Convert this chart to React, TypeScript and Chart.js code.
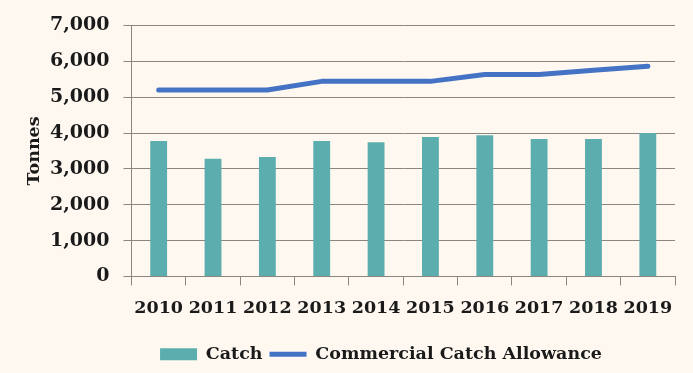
import React, { useEffect, useRef } from "react";
import { Chart, registerables } from "chart.js";

Chart.register(...registerables);

const years = ["2010", "2011", "2012", "2013", "2014", "2015", "2016", "2017", "2018", "2019"];
const catchValues = [3780, 3280, 3330, 3780, 3740, 3890, 3940, 3830, 3830, 4000];
const allowanceValues = [5200, 5200, 5200, 5440, 5440, 5440, 5630, 5630, 5750, 5860];
const yTicks = [0, 1000, 2000, 3000, 4000, 5000, 6000, 7000];

const BG = "#fef8f1";
const GRID = "#8a8680";
const TEXT = "#1a1a1a";
const FONT = "'DejaVu Serif', serif";
const FS = 17.5;

const legendShift = {
  id: "legendShift",
  afterLayout(chart: any) {
    const lg = chart.legend;
    if (lg) {
      lg.left += 38;
      lg.right += 38;
    }
  },
};

export default function App() {
  const ref = useRef<HTMLCanvasElement | null>(null);

  useEffect(() => {
    document.body.style.margin = "0";
    document.body.style.background = BG;
    const canvas = ref.current;
    if (!canvas) return;
    const chart = new Chart(canvas, {
      type: "bar",
      data: {
        labels: years,
        datasets: [
          {
            type: "bar",
            label: "Catch",
            data: catchValues,
            backgroundColor: "#5baead",
            borderWidth: 0,
            pointStyle: "rect",
            categoryPercentage: 1,
            barPercentage: 0.31,
          } as any,
          {
            type: "line",
            label: "Commercial Catch Allowance",
            data: allowanceValues,
            borderColor: "#4472c4",
            backgroundColor: "#4472c4",
            borderWidth: 5,
            pointRadius: 0,
            pointStyle: "line",
            tension: 0,
            borderCapStyle: "round",
            borderJoinStyle: "round",
          } as any,
        ],
      },
      plugins: [legendShift],
      options: {
        responsive: false,
        animation: false,
        layout: { padding: { top: 11, right: 18, left: 11, bottom: 0 } },
        plugins: {
          tooltip: { enabled: false },
          legend: {
            position: "bottom",
            labels: {
              usePointStyle: true,
              pointStyleWidth: 37,
              boxHeight: 12,
              padding: 7,
              color: TEXT,
              font: { family: FONT, size: FS, weight: "bold" },
            },
          },
        },
        scales: {
          x: {
            offset: true,
            grid: { drawOnChartArea: false, color: GRID, tickLength: 9 },
            border: { color: GRID, width: 1 },
            ticks: {
              color: TEXT,
              padding: 12,
              maxRotation: 0,
              minRotation: 0,
              autoSkip: false,
              font: { family: FONT, size: FS, weight: "bold", lineHeight: 1.2 },
            },
            title: { display: true, text: " ", padding: 0, font: { size: 10, lineHeight: 0.8 } },
          },
          y: {
            min: 0,
            max: 7000,
            afterBuildTicks: (axis: any) => {
              axis.ticks = yTicks.map((v) => ({ value: v }));
            },
            grid: { color: GRID, tickLength: 8 },
            border: { color: GRID, width: 1 },
            ticks: {
              color: TEXT,
              padding: 14,
              font: { family: FONT, size: 19, weight: "bold" },
              callback: (v: any) => Number(v).toLocaleString("en-US"),
            },
            title: {
              display: true,
              text: "Tonnes",
              color: TEXT,
              padding: { top: 13, bottom: -9 },
              font: { family: FONT, size: FS, weight: "bold" },
            },
          },
        },
      },
    });
    return () => chart.destroy();
  }, []);

  return (
    <div style={{ width: 693, height: 373, background: BG }}>
      <canvas ref={ref} width={693} height={373} style={{ display: "block" }} />
    </div>
  );
}
